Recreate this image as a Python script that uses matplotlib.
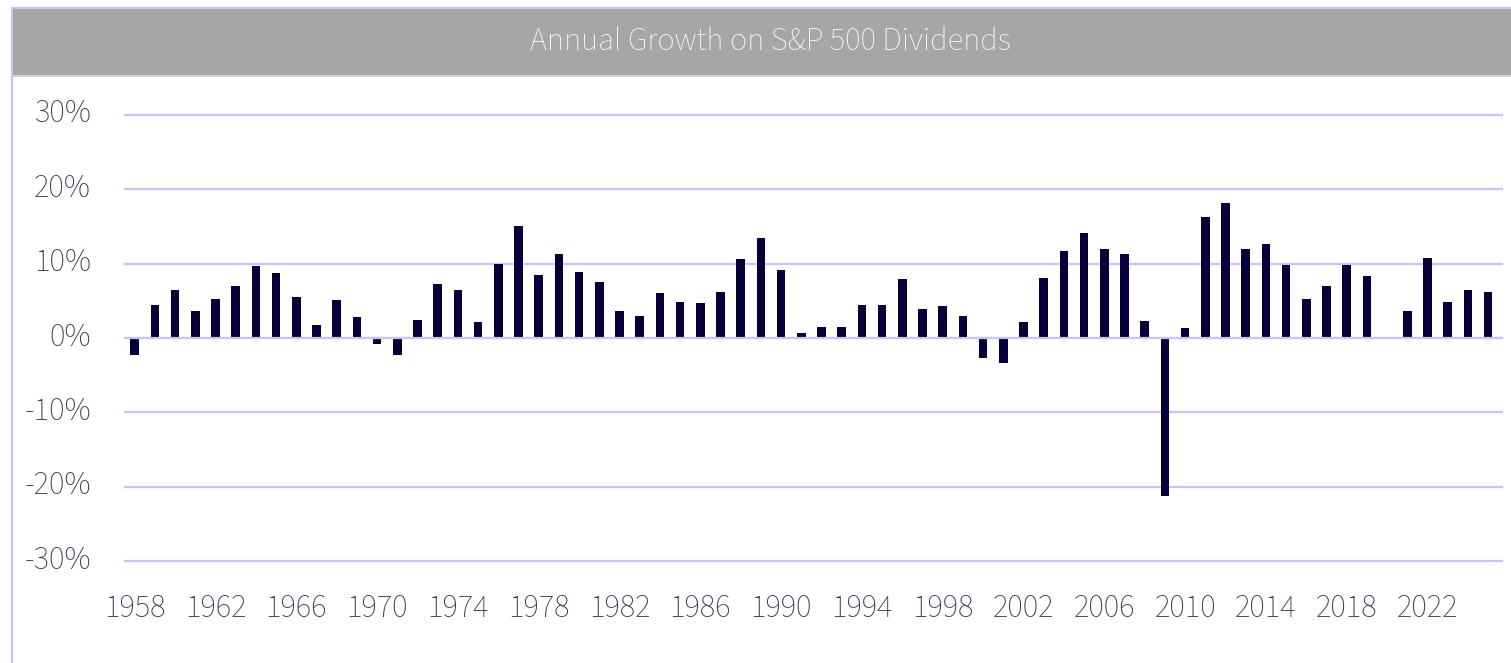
import matplotlib
matplotlib.use("Agg")
import matplotlib.pyplot as plt
import matplotlib.transforms as mtransforms
from matplotlib.patches import Rectangle
from matplotlib.lines import Line2D

years = list(range(1958, 2026))
growth = [
    -2.3, 4.5, 6.4, 3.6, 5.2, 7.0, 9.7, 8.7, 5.5, 1.7,     # 1958-1967
    5.1, 2.8, -0.8, -2.3, 2.4, 7.2, 6.4, 2.1, 10.0, 15.1,  # 1968-1977
    8.5, 11.3, 8.9, 7.5, 3.6, 3.0, 6.0, 4.9, 4.7, 6.2,     # 1978-1987
    10.6, 13.4, 9.2, 0.7, 1.5, 1.5, 4.5, 4.5, 7.9, 3.9,    # 1988-1997
    4.3, 3.0, -2.7, -3.4, 2.1, 8.1, 11.7, 14.1, 11.9, 11.3, # 1998-2007
    2.3, -21.2, 1.3, 16.2, 18.1, 11.9, 12.6, 9.8, 5.2, 7.0, # 2008-2017
    9.8, 8.3, 0.0, 3.6, 10.7, 4.9, 6.4, 6.2,               # 2018-2025
]
xtick_years = list(range(1958, 2023, 4))
ytick_vals = [-30, -20, -10, 0, 10, 20, 30]
ytick_labels = [f"{v}%" for v in ytick_vals]
title = "Annual Growth on S&P 500 Dividends"

FONT = ["Source Sans Pro", "Source Sans 3", "Lato", "DejaVu Sans"]
plt.rcParams["font.family"] = FONT

W, H = 1511, 663
fig = plt.figure(figsize=(W / 100, H / 100), dpi=100)
fig.patch.set_facecolor("white")

def fx(px):
    return px / W

def fy(py):
    return 1 - py / H

# header band and frame
fig.patches.append(Rectangle((fx(12), fy(75)), fx(W) - fx(12), fy(9) - fy(75),
                             transform=fig.transFigure, facecolor="#a6a6a6",
                             edgecolor="none", zorder=0))
fig.lines.append(Line2D([fx(12), 1], [fy(75.5), fy(75.5)], transform=fig.transFigure,
                        color="#d4d4d4", lw=1.5))
fig.lines.append(Line2D([fx(12), 1], [fy(8), fy(8)], transform=fig.transFigure,
                        color="#c4c4ff", lw=1.5))
fig.lines.append(Line2D([fx(12), fx(12)], [fy(8), 0], transform=fig.transFigure,
                        color="#c4c4ff", lw=1.5))
fig.text(fx(770), fy(42), title, ha="center", va="center", color="#f4f4f4",
         fontsize=23.4, fontweight="light")

ax = fig.add_axes([fx(125), fy(561.3), fx(1502) - fx(125), fy(114.7) - fy(561.3)])
ax.set_facecolor("none")
ax.bar(years, growth, width=0.42, color="#05003a", zorder=3)
ax.set_xlim(1957.52, 2025.69)
ax.set_ylim(-30, 30)
for v in ytick_vals:
    ax.axhline(v, color="#c4c4ff", lw=1.6, zorder=4 if v == 0 else 1, clip_on=False)
for s in ax.spines.values():
    s.set_visible(False)
ax.set_xticks(xtick_years)
ax.set_xticklabels([str(y) for y in xtick_years])
ax.set_yticks(ytick_vals)
ax.set_yticklabels(ytick_labels)
ax.tick_params(axis="both", length=0, labelsize=23.5, labelcolor="#3b3a5c")
ax.tick_params(axis="y", pad=24.5)
ax.tick_params(axis="x", pad=23)
for lab in ax.get_yticklabels() + ax.get_xticklabels():
    lab.set_fontweight("light")
offset = mtransforms.ScaledTranslation(0, 4.5 / 100, fig.dpi_scale_trans)
for lab in ax.get_yticklabels():
    lab.set_transform(lab.get_transform() + offset)

fig.savefig("out.png", dpi=100, facecolor="white")
